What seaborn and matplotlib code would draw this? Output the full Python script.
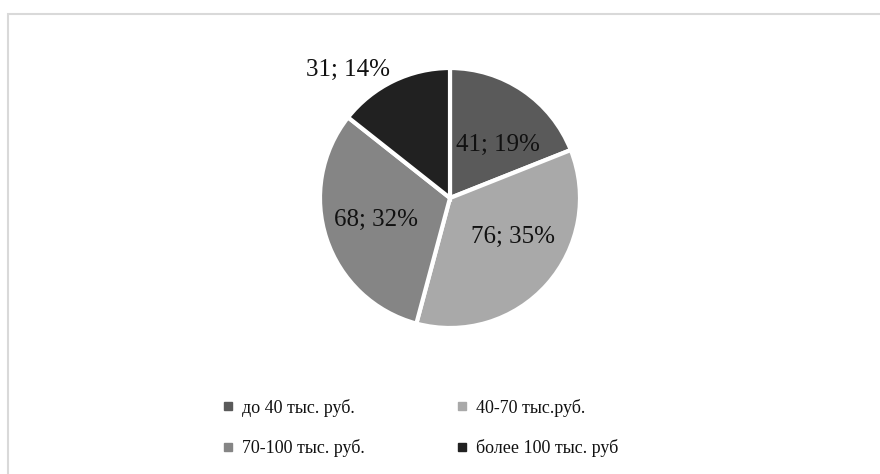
import numpy as np
import matplotlib
matplotlib.use("Agg")
import matplotlib.pyplot as plt
from matplotlib.lines import Line2D
from matplotlib.patches import Rectangle
import seaborn as sns

categories = ["до 40 тыс. руб.", "40-70 тыс.руб.", "70-100 тыс. руб.", "более 100 тыс. руб"]
values = [41, 76, 68, 31]
percents = [19, 35, 32, 14]
colors = ["#5a5a5a", "#a9a9a9", "#858585", "#212121"]

sns.set_theme(style="white")
plt.rcParams["font.family"] = ["Liberation Serif", "DejaVu Serif"]

fig = plt.figure(figsize=(8.8, 4.74), dpi=100)
fig.patch.set_facecolor("white")

# outer chart border (partially off-canvas like the reference)
fig.patches.append(Rectangle((8 / 880, -0.1), 1.2, (474 - 14) / 474 + 0.1,
                             transform=fig.transFigure, fill=False,
                             edgecolor="#d9d9d9", linewidth=1.5))

cx, cy, r = 450, 474 - 198, 130
ax = fig.add_axes([(cx - r) / 880, (cy - r) / 474, 2 * r / 880, 2 * r / 474])
wedges, _ = ax.pie(values, colors=colors, startangle=90, counterclock=False,
                   radius=1, wedgeprops=dict(edgecolor="white", linewidth=3))
ax.set_xlim(-1, 1)
ax.set_ylim(-1, 1)
ax.set_aspect("equal")
ax.axis("off")

# label placement (angle in deg, distance in radii) similar to Excel best-fit
label_pos = [(48, 0.55), (-32, 0.57), (-163.5, 0.59), (128.6, 1.26)]
for (ang, dist), v, p in zip(label_pos, values, percents):
    a = np.deg2rad(ang)
    ax.text(dist * np.cos(a), dist * np.sin(a), f"{v}; {p}%", ha="center", va="center",
            fontsize=18, color="#111111")

handles = [Line2D([0], [0], marker="s", linestyle="none", markersize=6,
                  markerfacecolor=c, markeredgecolor=c) for c in colors]
# row-wise ordering for a 2-column legend
order = [0, 2, 1, 3]
leg = fig.legend([handles[i] for i in order], [categories[i] for i in order],
                 loc="center", bbox_to_anchor=(0.477, 0.097),
                 ncol=2, frameon=False, fontsize=13, handletextpad=0.38,
                 columnspacing=5.0, labelspacing=1.25, handlelength=0.8)
for t in leg.get_texts():
    t.set_color("#111111")

fig.savefig("out.png", dpi=100, facecolor="white")
